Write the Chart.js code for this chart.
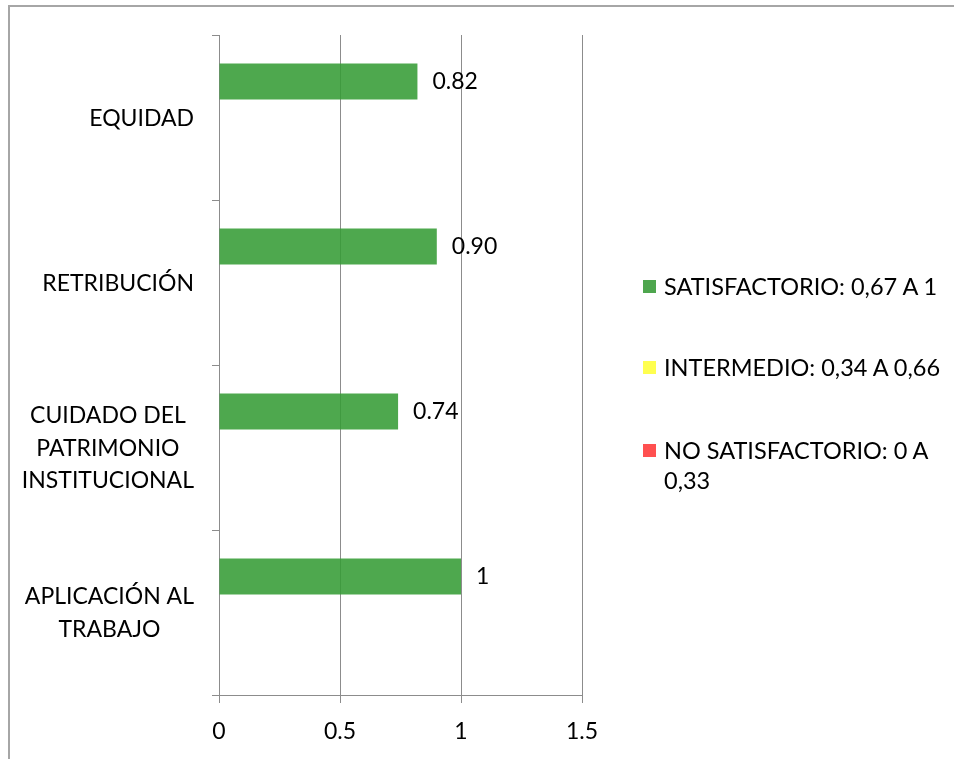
<!DOCTYPE html>
<html>
<head>
<meta charset="utf-8">
<script src="https://cdn.jsdelivr.net/npm/chart.js@4"></script>
<style>
  html, body { margin: 0; padding: 0; background: #fff; }
  #wrap { position: relative; width: 954px; height: 759px; overflow: hidden; font-family: Lato, sans-serif; }
  #frame { position: absolute; left: 8px; top: 5px; width: 1000px; height: 800px; border: 2px solid #a6a6a6; box-sizing: border-box; }
  canvas { position: absolute; left: 0; top: 0; }
  .item { position: absolute; left: 643px; font-size: 23.5px; line-height: 30px; color: #000; white-space: nowrap; }
  .sw { position: absolute; left: 0; top: 9px; width: 13px; height: 13px; }
  .txt { position: absolute; left: 21px; top: 0; }
</style>
</head>
<body>
<div id="wrap">
  <div id="frame"></div>
  <canvas id="chart" width="954" height="759"></canvas>
  <div id="legend"></div>
</div>
<script>
// --- Данные ---
const categories = [['EQUIDAD'], ['RETRIBUCIÓN'], ['CUIDADO DEL', 'PATRIMONIO', 'INSTITUCIONAL'], ['APLICACIÓN AL', 'TRABAJO']];
const satisfactorio = [0.82, 0.90, 0.74, 1];
const valueLabels = ['0.82', '0.90', '0.74', '1'];
const intermedio = [null, null, null, null];
const noSatisfactorio = [null, null, null, null];
const xTicks = [0, 0.5, 1, 1.5];
const xTickLabels = ['0', '0.5', '1', '1.5'];
const seriesNames = [['SATISFACTORIO: 0,67 A 1'], ['INTERMEDIO: 0,34 A 0,66'], ['NO SATISFACTORIO: 0 A', '0,33']];
const seriesColors = ['rgba(54, 156, 54, 0.88)', '#ffff4f', '#ff5050'];
const legendSwatches = ['#4ea64e', '#ffff4f', '#ff5050'];

const FONT = 'Lato';
const FONT_SIZE = 23;
const GRID = '#8c8c8c';

// --- Подписи категорий и значений (рисуем сами) ---
const labelsPlugin = {
    id: 'labels',
    afterDatasetsDraw(chart) {
        const ctx = chart.ctx;
        const yScale = chart.scales.y;
        ctx.save();
        ctx.font = `${FONT_SIZE}px ${FONT}`;
        ctx.fillStyle = '#000';
        ctx.textBaseline = 'alphabetic';

        // категории: блок выровнен вправо, строки по центру
        categories.forEach((lines, i) => {
            const cy = yScale.getPixelForValue(i);
            const widths = lines.map(l => ctx.measureText(l).width);
            const blockW = Math.max(...widths);
            const centerX = 194 - blockW / 2;
            ctx.textAlign = 'center';
            lines.forEach((line, k) => {
                const ly = cy + (k - (lines.length - 1) / 2) * 32.5;
                ctx.fillText(line, centerX, ly + 8);
            });
        });

        // значения справа от столбиков
        const meta = chart.getDatasetMeta(0);
        ctx.textAlign = 'left';
        meta.data.forEach((bar, i) => {
            ctx.fillText(valueLabels[i], bar.x + 15, bar.y + 8);
        });
        ctx.restore();
    }
};

new Chart(document.getElementById('chart'), {
    type: 'bar',
    data: {
        labels: categories,
        datasets: [
            { label: seriesNames[0].join(' '), data: satisfactorio, backgroundColor: seriesColors[0], barPercentage: 1, categoryPercentage: 0.655 },
            { label: seriesNames[1].join(' '), data: intermedio, backgroundColor: seriesColors[1], barPercentage: 1, categoryPercentage: 0.655 },
            { label: seriesNames[2].join(' '), data: noSatisfactorio, backgroundColor: seriesColors[2], barPercentage: 1, categoryPercentage: 0.655 }
        ]
    },
    options: {
        indexAxis: 'y',
        responsive: false,
        animation: false,
        layout: { padding: { left: 0, right: 372, top: 35, bottom: 0 } },
        plugins: { legend: { display: false }, tooltip: { enabled: false } },
        scales: {
            x: {
                min: 0, max: 1.5,
                afterBuildTicks: s => { s.ticks = xTicks.map(v => ({ value: v })); },
                ticks: {
                    color: '#000', font: { family: FONT, size: FONT_SIZE }, padding: 15,
                    callback: (v, i) => xTickLabels[i]
                },
                grid: { color: GRID, tickLength: 8 },
                border: { color: GRID },
                afterFit: s => { s.height = 64; }
            },
            y: {
                ticks: { display: false },
                grid: { offset: true, drawOnChartArea: false, tickLength: 7, color: GRID },
                border: { color: GRID },
                afterFit: s => { s.width = 219; }
            }
        }
    },
    plugins: [labelsPlugin]
});

// --- Легенда ---
const legendTops = [271, 352, 435];
const legendEl = document.getElementById('legend');
seriesNames.forEach((lines, i) => {
    const item = document.createElement('div');
    item.className = 'item';
    item.style.top = legendTops[i] + 'px';
    item.innerHTML = `<span class="sw" style="background:${legendSwatches[i]}"></span><span class="txt">${lines.join('<br>')}</span>`;
    legendEl.appendChild(item);
});
</script>
</body>
</html>
